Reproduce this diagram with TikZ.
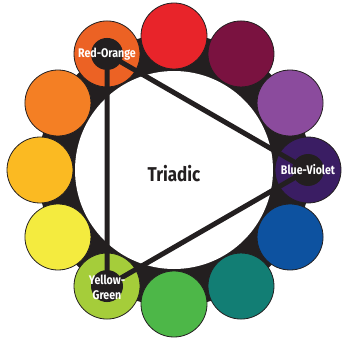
\documentclass[tikz,border=0pt]{standalone}
\usepackage{fontspec}
\newfontfamily\wheelfont[FakeStretch=0.85]{Fira Sans}
\usepackage{tikz}

\definecolor{rengas}{HTML}{231F20}
\definecolor{punainen}{HTML}{E8242A}
\definecolor{punavioletti}{HTML}{7A1240}
\definecolor{violetti}{HTML}{8B4B9D}
\definecolor{sinivioletti}{HTML}{3A1D63}
\definecolor{sininen}{HTML}{0D52A0}
\definecolor{sinivihrea}{HTML}{127E74}
\definecolor{vihrea}{HTML}{4DB748}
\definecolor{keltavihrea}{HTML}{A5CD3A}
\definecolor{keltainen}{HTML}{F4EB3F}
\definecolor{keltaoranssi}{HTML}{FBBA22}
\definecolor{oranssi}{HTML}{F47F24}
\definecolor{punaoranssi}{HTML}{EC6224}

\begin{document}
\begin{tikzpicture}[line cap=round,line join=round,x=1pt,y=1pt,
	vari/.style={circle, draw=rengas, line width=0.8pt, minimum size=66pt, inner sep=0pt},
	nimi/.style={text=white, align=center, font=\wheelfont\bfseries\fontsize{12.5}{15}\selectfont}]

		\useasboundingbox (0,0) rectangle (343,338);
		\coordinate (O) at (174,168);

		%taustarengas
		\fill[color=rengas] (O) circle [radius=136];
		\fill[color=white] (O) circle [radius=99];

		%väriympyrät
		\foreach \k/\col in {0/sinivioletti,30/violetti,60/punavioletti,90/punainen,
			120/punaoranssi,150/oranssi,180/keltaoranssi,210/keltainen,
			240/keltavihrea,270/vihrea,300/sinivihrea,330/sininen}
		{\node[vari, fill=\col] (v\k) at ([shift={(\k:134)}]O) {};
		}

		%kolmikon keskustat
		\foreach \k in {0,120,240}
		{\fill[color=rengas] (v\k.center) circle [radius=16];
		}

		% Varsinainen kuva
		\draw[color=rengas, line width=5pt] (v120.center) -- (v0.center) -- (v240.center) -- cycle;

		\node[nimi] (n120) at (v120) {Red-Orange};
		\node[nimi] (n0) at (v0) {Blue-Violet};
		\node[nimi] (n240) at ([yshift=-1]v240) {Yellow-\\Green};

		\node[font=\wheelfont\bfseries\fontsize{20}{22}\selectfont, text=rengas] (tri) at ([yshift=-4]O) {Triadic};

	\end{tikzpicture}
\end{document}
